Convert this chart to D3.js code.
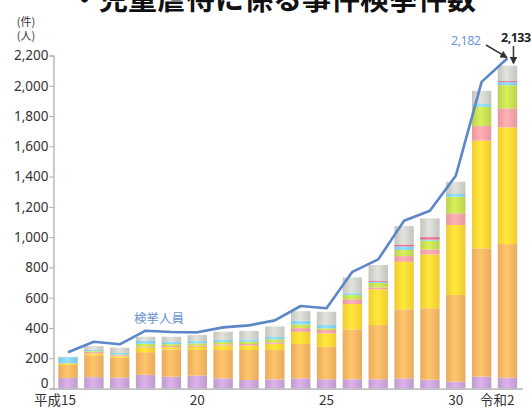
<!DOCTYPE html>
<html>
<head>
<meta charset="utf-8">
<script src="https://cdn.jsdelivr.net/npm/d3@7"></script>
<style>
  body { margin: 0; background: #fff; }
  svg { display: block; font-family: "Noto Sans", "Noto Sans CJK JP", sans-serif; }
</style>
</head>
<body>
<svg id="chart" width="532" height="409"></svg>
<script>
// 年（平成15〜令和2）
const years = ["平成15","16","17","18","19","20","21","22","23","24","25","26","27","28","29","30","令和元","令和2"];
const shownLabels = ["平成15","20","25","30","令和2"];
const yTicks = [0,200,400,600,800,1000,1200,1400,1600,1800,2000,2200];

// 罪種別 検挙件数（下から積み上げ）
const satsujin   = [70, 75, 72, 90, 78, 85, 67, 56, 60, 67, 61, 61, 61, 67, 58, 45, 78, 71];
const shougai    = [85,145,130,150,180,170,187,198,195,227,215,330,358,456,472,573,848,883];
const boukou     = [ 8, 12, 10, 30, 15, 20, 30, 30, 40, 80, 88,167,236,314,355,462,711,771];
const seiteki    = [ 2, 10,  8,  5,  8,  8,  8, 10, 10, 25, 22, 31, 13, 38, 34, 77, 97,126];
const waisetsu   = [ 2,  5,  5, 20, 12, 15, 15, 15, 20, 24, 12, 28, 29, 40, 57,110,127,153];
const iki        = [40,  8, 10, 20, 14, 15, 15, 15, 15, 24, 22, 12,  8, 24,  8, 18, 18, 20];
const kashitsu   = [ 0,  0,  0,  0,  0,  0,  0,  0,  0,  0,  0,  0,  8, 12, 16,  0,  0,  7];
const sonota     = [ 3, 25, 35, 27, 35, 40, 53, 56, 70, 64, 87,105,103,122,124, 81, 88,102];

// 検挙人員（折れ線）
const jinin = [239,309,292,382,373,371,404,417,450,545,530,771,853,1108,1174,1405,2026,2182];

const seriesKeys = ["satsujin","shougai","boukou","seiteki","waisetsu","iki","kashitsu","sonota"];
const seriesArrays = [satsujin, shougai, boukou, seiteki, waisetsu, iki, kashitsu, sonota];
const colors = ["#c9a3d8","#f6b462","#fdd535","#f3a1a6","#c5dc52","#86d0ee","#e2688a","#d0d0ca"];

const table = years.map((y, i) => {
  const row = { year: y };
  seriesKeys.forEach((k, j) => row[k] = seriesArrays[j][i]);
  return row;
});

const svg = d3.select("#chart");

const x = d3.scaleBand()
  .domain(years)
  .range([55.1, 520.4])
  .paddingInner(0.25)
  .paddingOuter(0.125);

const y = d3.scaleLinear()
  .domain([0, 2200])
  .range([388.5, 55.5]);

// タイトル（上が切れている）
svg.append("text")
  .attr("x", 70)
  .attr("y", 10)
  .attr("font-size", 29)
  .attr("font-weight", "bold")
  .attr("font-family", "Noto Sans CJK JP")
  .attr("fill", "#111")
  .text("・児童虐待に係る事件検挙件数");

// 単位
svg.append("text").attr("x", 26).attr("y", 26).attr("text-anchor", "middle")
  .attr("font-size", 11).attr("fill", "#333").attr("font-family", "Noto Sans CJK JP").text("(件)");
svg.append("text").attr("x", 26).attr("y", 40).attr("text-anchor", "middle")
  .attr("font-size", 11).attr("fill", "#333").attr("font-family", "Noto Sans CJK JP").text("(人)");

// グラデーション（棒の立体感）
const defs = svg.append("defs");
colors.forEach((c, i) => {
  const g = defs.append("linearGradient").attr("id", "grad" + i)
    .attr("x1", "0%").attr("x2", "100%").attr("y1", "0%").attr("y2", "0%");
  const dark = d3.color(c).darker(0.15);
  const light = d3.color(c).brighter(0.25);
  g.append("stop").attr("offset", "0%").attr("stop-color", dark);
  g.append("stop").attr("offset", "45%").attr("stop-color", light);
  g.append("stop").attr("offset", "100%").attr("stop-color", dark);
});

// 積み上げ棒
const stacked = d3.stack().keys(seriesKeys)(table);

svg.append("g")
  .selectAll("g")
  .data(stacked)
  .join("g")
  .attr("fill", (d, i) => `url(#grad${i})`)
  .selectAll("rect")
  .data(d => d)
  .join("rect")
  .attr("x", d => x(d.data.year))
  .attr("width", x.bandwidth())
  .attr("y", d => y(d[1]))
  .attr("height", d => Math.max(0, y(d[0]) - y(d[1])));

// 軸
const yAxis = d3.axisLeft(y).tickValues(yTicks).tickSize(4).tickFormat(d3.format(","));
const gy = svg.append("g").attr("transform", "translate(53.5,0)").call(yAxis);
gy.select(".domain").attr("stroke", "#a8a8a8").attr("stroke-width", 1.2);
gy.selectAll(".tick line").attr("stroke", "#a8a8a8");
gy.selectAll(".tick text")
  .attr("font-size", 13.5)
  .attr("fill", "#333")
  .attr("font-family", "Noto Sans")
  .attr("x", -5);
gy.selectAll(".tick").filter(d => d === 0).select("text").attr("y", -5);

svg.append("line")
  .attr("x1", 53).attr("x2", 523)
  .attr("y1", 389.2).attr("y2", 389.2)
  .attr("stroke", "#a8a8a8").attr("stroke-width", 1.2);

// 横軸ラベル
const xLabelShift = { "平成15": 8, "20": 0, "25": 0, "30": 0, "令和2": 7 };
svg.append("g")
  .selectAll("text")
  .data(shownLabels)
  .join("text")
  .attr("x", d => x(d) + x.bandwidth() / 2 + xLabelShift[d])
  .attr("y", 405)
  .attr("text-anchor", d => (d === "平成15" || d === "令和2") ? "end" : "middle")
  .attr("font-size", 13.5)
  .attr("fill", "#333")
  .attr("font-family", "Noto Sans CJK JP")
  .text(d => d);

// 検挙人員の折れ線
const line = d3.line()
  .x((d, i) => x(years[i]) + x.bandwidth() / 2)
  .y(d => y(d));

svg.append("path")
  .datum(jinin)
  .attr("d", line)
  .attr("fill", "none")
  .attr("stroke", "#5b87c9")
  .attr("stroke-width", 2.6)
  .attr("stroke-linejoin", "round");

svg.append("text")
  .attr("x", 134).attr("y", 323)
  .attr("font-size", 12.5)
  .attr("fill", "#6b93d6")
  .attr("font-family", "Noto Sans CJK JP")
  .text("検挙人員");

// 最終年の注記
const lastX = x(years[17]) + x.bandwidth() / 2;
defs.append("marker").attr("id", "arr").attr("viewBox", "0 0 10 10")
  .attr("refX", 8).attr("refY", 5).attr("markerWidth", 5).attr("markerHeight", 5)
  .attr("orient", "auto")
  .append("path").attr("d", "M0,0L10,5L0,10z").attr("fill", "#333");

svg.append("text")
  .attr("x", 451).attr("y", 45)
  .attr("font-size", 12.5)
  .attr("fill", "#7199da")
  .attr("font-family", "Noto Sans")
  .attr("letter-spacing", -0.5)
  .text("2,182");
svg.append("line")
  .attr("x1", 486).attr("y1", 45).attr("x2", lastX - 1).attr("y2", y(jinin[17]) - 1)
  .attr("stroke", "#333").attr("stroke-width", 1.5)
  .attr("marker-end", "url(#arr)");

svg.append("text")
  .attr("x", 501).attr("y", 42)
  .attr("font-size", 12.5)
  .attr("font-weight", "bold")
  .attr("fill", "#222")
  .attr("font-family", "Noto Sans")
  .attr("letter-spacing", -0.5)
  .text("2,133");
svg.append("line")
  .attr("x1", lastX + 6).attr("y1", 46).attr("x2", lastX + 6).attr("y2", 63)
  .attr("stroke", "#333").attr("stroke-width", 1.5)
  .attr("marker-end", "url(#arr)");
</script>
</body>
</html>
